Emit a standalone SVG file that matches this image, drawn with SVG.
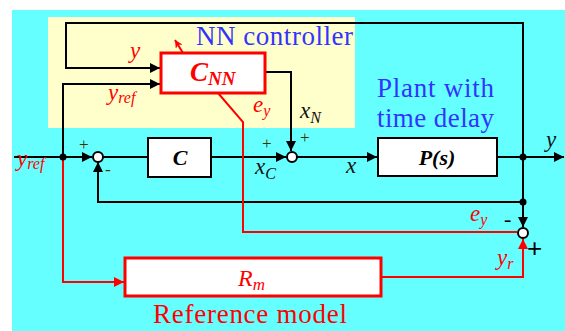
<svg xmlns="http://www.w3.org/2000/svg" width="565" height="331" viewBox="0 0 565 331">
<defs>
<marker id="ab" viewBox="0 0 10 10" refX="10" refY="5" markerWidth="12" markerHeight="10" markerUnits="userSpaceOnUse" orient="auto"><path d="M0,0 L10,5 L0,10 z" fill="#000"/></marker>
<marker id="ar" viewBox="0 0 10 10" refX="10" refY="5" markerWidth="12" markerHeight="10" markerUnits="userSpaceOnUse" orient="auto"><path d="M0,0 L10,5 L0,10 z" fill="#f00"/></marker>
<marker id="ar2" viewBox="0 0 10 10" refX="10" refY="5" markerWidth="9" markerHeight="8" markerUnits="userSpaceOnUse" orient="auto"><path d="M0,0 L10,5 L0,10 L3,5 z" fill="#f00"/></marker>
</defs>
<style>
.ln{fill:none;stroke:#000;stroke-width:2}
.rl{fill:none;stroke:#f00;stroke-width:2}
.blk{fill:#fff;stroke:#000;stroke-width:2}
.rbox{fill:#fff;stroke:#f00;stroke-width:3}
.sum{fill:#fff;stroke:#000;stroke-width:2}
.dot{fill:#000}
.rlab{font-style:italic;font-size:23px;fill:#f00}
.klab{font-style:italic;font-size:23px;fill:#111}
.sub{font-size:16px}
.blue{font-size:27px;fill:#3333ff}
.sign{font-size:17px;fill:#333300}
</style>
<rect x="12" y="10" width="553" height="321" fill="#66ffff"/>
<rect x="48" y="17" width="307" height="111" fill="#ffffcc"/>
<g id="connectors">
<path class="ln" d="M523,157 V23 H66 V68 H160" marker-end="url(#ab)"/>
<path class="ln" d="M63,157 V84 H160" marker-end="url(#ab)"/>
<path class="ln" d="M14,157 H92" marker-end="url(#ab)"/>
<path class="ln" d="M103,157 H148"/>
<path class="ln" d="M523,202 H98 V162" marker-end="url(#ab)"/>
<path class="ln" d="M211,157 H286" marker-end="url(#ab)"/>
<path class="ln" d="M264,72 H291 V151" marker-end="url(#ab)"/>
<path class="ln" d="M297,157 H377" marker-end="url(#ab)"/>
<path class="ln" d="M497,157 H564" marker-end="url(#ab)"/>
<path class="ln" d="M523,157 V227" marker-end="url(#ab)"/>
<path class="rl" d="M63,159 V282 H124" marker-end="url(#ar)"/>
<path class="rl" d="M381,277 H523 V239" marker-end="url(#ar)"/>
<path class="rl" d="M218,93 L243,122 V232 H517"/>
<path class="rl" d="M183,53 L175,40" marker-end="url(#ar2)"/>
<circle class="dot" cx="63" cy="157" r="3.5"/>
<circle class="dot" cx="523" cy="157" r="3.5"/>
<circle class="dot" cx="523" cy="202" r="3.5"/>
</g>
<g font-family="Liberation Serif, serif">
<g id="sum1"><circle class="sum" cx="98" cy="157" r="5"/><text class="sign" x="79" y="150">+</text><text class="sign" x="105" y="175" font-size="20">-</text></g>
<g id="sum2"><circle class="sum" cx="292" cy="157" r="5"/><text class="sign" x="262" y="149">+</text><text class="sign" x="300" y="143">+</text></g>
<g id="sum3"><circle class="sum" cx="523" cy="233" r="5"/><text x="504" y="226" font-size="22" fill="#000">-</text><text x="527" y="257" font-size="26" fill="#000" font-family="Liberation Sans, sans-serif">+</text></g>
<g id="cnn">
<rect class="rbox" x="161" y="53" width="104" height="40"/>
<text x="190" y="81" font-size="27" font-weight="bold" font-style="italic" fill="#f00">C<tspan font-size="19" dy="4">NN</tspan></text>
</g>
<g id="c">
<rect class="blk" x="148" y="138" width="63" height="39"/>
<text x="180" y="165" font-size="22" font-weight="bold" font-style="italic" text-anchor="middle" fill="#000">C</text>
</g>
<g id="plant">
<rect class="blk" x="378" y="138" width="119" height="38"/>
<text x="437" y="165" font-size="22" font-weight="bold" font-style="italic" text-anchor="middle" fill="#000">P(s)</text>
</g>
<g id="rm">
<rect class="rbox" x="125" y="258" width="256" height="38"/>
<text x="238" y="286" font-size="24" font-style="italic" fill="#f00">R<tspan font-size="17" dy="4">m</tspan></text>
</g>
<g id="labels">
<text class="blue" x="196" y="45" textLength="157">NN controller</text>
<text class="blue" x="377" y="97" textLength="117">Plant with</text>
<text class="blue" x="377" y="127" textLength="117">time delay</text>
<text x="153" y="323" font-size="27" fill="#f00" textLength="194">Reference model</text>
<text class="rlab" x="130" y="58">y</text>
<text class="rlab" x="108" y="100">y<tspan class="sub" dy="3">ref</tspan></text>
<text class="rlab" x="17" y="166">y<tspan class="sub" dy="3">ref</tspan></text>
<text class="rlab" x="253" y="112">e<tspan class="sub" dy="4">y</tspan></text>
<text class="rlab" x="470" y="221">e<tspan class="sub" dy="4">y</tspan></text>
<text class="rlab" x="497" y="265">y<tspan class="sub" dy="4">r</tspan></text>
<text class="klab" x="300" y="118">x<tspan class="sub" dy="5">N</tspan></text>
<text class="klab" x="255" y="174">x<tspan class="sub" dy="5">C</tspan></text>
<text class="klab" x="346" y="173">x</text>
<text class="klab" x="546" y="147">y</text>
</g>
</g>
</svg>
